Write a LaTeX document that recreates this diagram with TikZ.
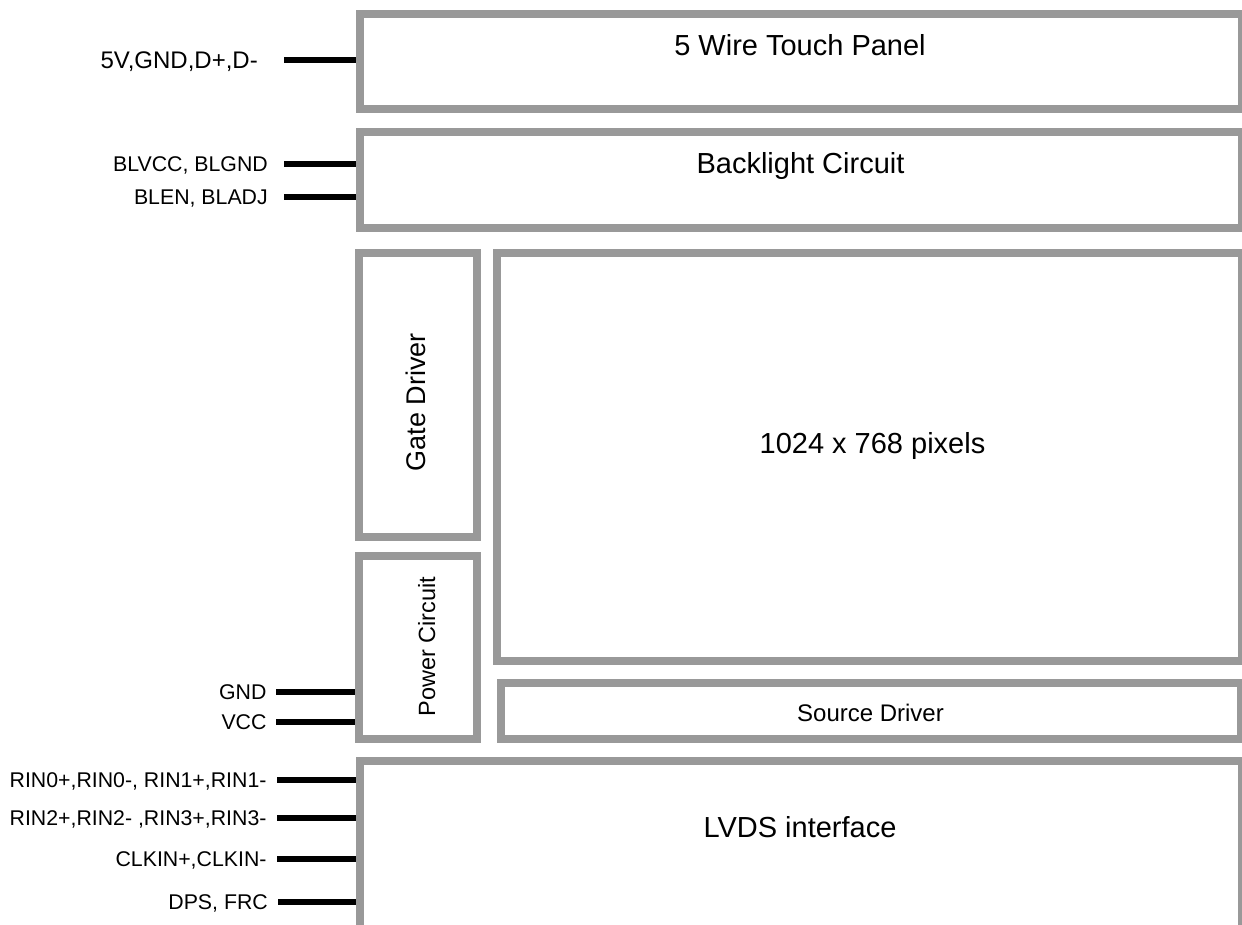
\documentclass[tikz,border=0pt]{standalone}
\usepackage{fontspec}
\setmainfont{Liberation Sans}
\definecolor{boxgray}{RGB}{153,153,153}

\begin{document}
\begin{tikzpicture}[x=1pt, y=-1pt]
\tikzset{ blk/.style={draw=boxgray, line width=8pt, inner sep=0pt, outer sep=4pt},
          pin/.style={line width=6pt, black},
          pinlbl/.style={anchor=base east, inner sep=0pt, font=\fontsize{21.3}{24}\selectfont},
          title/.style={anchor=base, inner sep=0pt, font=\fontsize{29}{34}\selectfont}, }

\useasboundingbox (0,0) rectangle (1242,924);

%\draw [lightgray, dashed](0,0) grid[step=100] (1242,924);

\node [blk, minimum width=882, minimum height=95]  (TP)  at (801,61.5)  {};
\node [blk, minimum width=882, minimum height=96]  (BL)  at (801,180)   {};
\node [blk, minimum width=118, minimum height=284] (GD)  at (418,395)   {};
\node [blk, minimum width=118, minimum height=183] (PC)  at (418,647.5) {};
\node [blk, minimum width=745, minimum height=408] (PIX) at (869.5,457) {};
\node [blk, minimum width=740, minimum height=56]  (SD)  at (871,711)   {};
\node [blk, minimum width=882, minimum height=168] (LV)  at (801,845)   {};

\node [title] (tTP)  at (800,55)    {5 Wire Touch Panel};
\node [title] (tBL)  at (800.5,173) {Backlight Circuit};
\node [title] (tPIX) at (872.5,453) {1024 x 768 pixels};
\node [title] (tLV)  at (800,837.7) {LVDS interface};
\node [title, font=\fontsize{24}{28}\selectfont] (tSD) at (870.5,721.7) {Source Driver};
\node [title, rotate=90, font=\fontsize{27}{32}\selectfont] (tGD) at (425,402) {Gate Driver};
\node [title, rotate=90, font=\fontsize{23.5}{28}\selectfont] (tPC) at (435,646.7) {Power Circuit};

% touch panel + backlight pins
\node [pinlbl, font=\fontsize{24}{28}\selectfont] (l5V) at (258,68.6) {5V,GND,D+,D-};
\node [pinlbl] (lBLV)  at (268,171.6) {BLVCC, BLGND};
\node [pinlbl] (lBLE)  at (268,204.6) {BLEN, BLADJ};
\coordinate (p5V)  at (284,60);
\coordinate (pBLV) at (284,164);
\coordinate (pBLE) at (284,197);
\draw [pin] (p5V)  -- (p5V  -| TP.west);
\draw [pin] (pBLV) -- (pBLV -| BL.west);
\draw [pin] (pBLE) -- (pBLE -| BL.west);

% power pins
\node [pinlbl] (lGND) at (266.7,699.6) {GND};
\node [pinlbl] (lVCC) at (266.7,729.6) {VCC};
\coordinate (pGND) at (276,692);
\coordinate (pVCC) at (276,722);
\draw [pin] (pGND) -- (pGND -| PC.west);
\draw [pin] (pVCC) -- (pVCC -| PC.west);

% lvds pins
\node [pinlbl] (lR0) at (266.7,787.6) {RIN0+,RIN0-, RIN1+,RIN1-};
\node [pinlbl] (lR2) at (266.7,825.6) {RIN2+,RIN2- ,RIN3+,RIN3-};
\node [pinlbl] (lCK) at (266.7,866.6) {CLKIN+,CLKIN-};
\node [pinlbl] (lDP) at (268,909.6)   {DPS, FRC};
\coordinate (pR0) at (277,780);
\coordinate (pR2) at (277,818);
\coordinate (pCK) at (277,859);
\coordinate (pDP) at (278,902);
\draw [pin] (pR0) -- (pR0 -| LV.west);
\draw [pin] (pR2) -- (pR2 -| LV.west);
\draw [pin] (pCK) -- (pCK -| LV.west);
\draw [pin] (pDP) -- (pDP -| LV.west);

\end{tikzpicture}
\end{document}
